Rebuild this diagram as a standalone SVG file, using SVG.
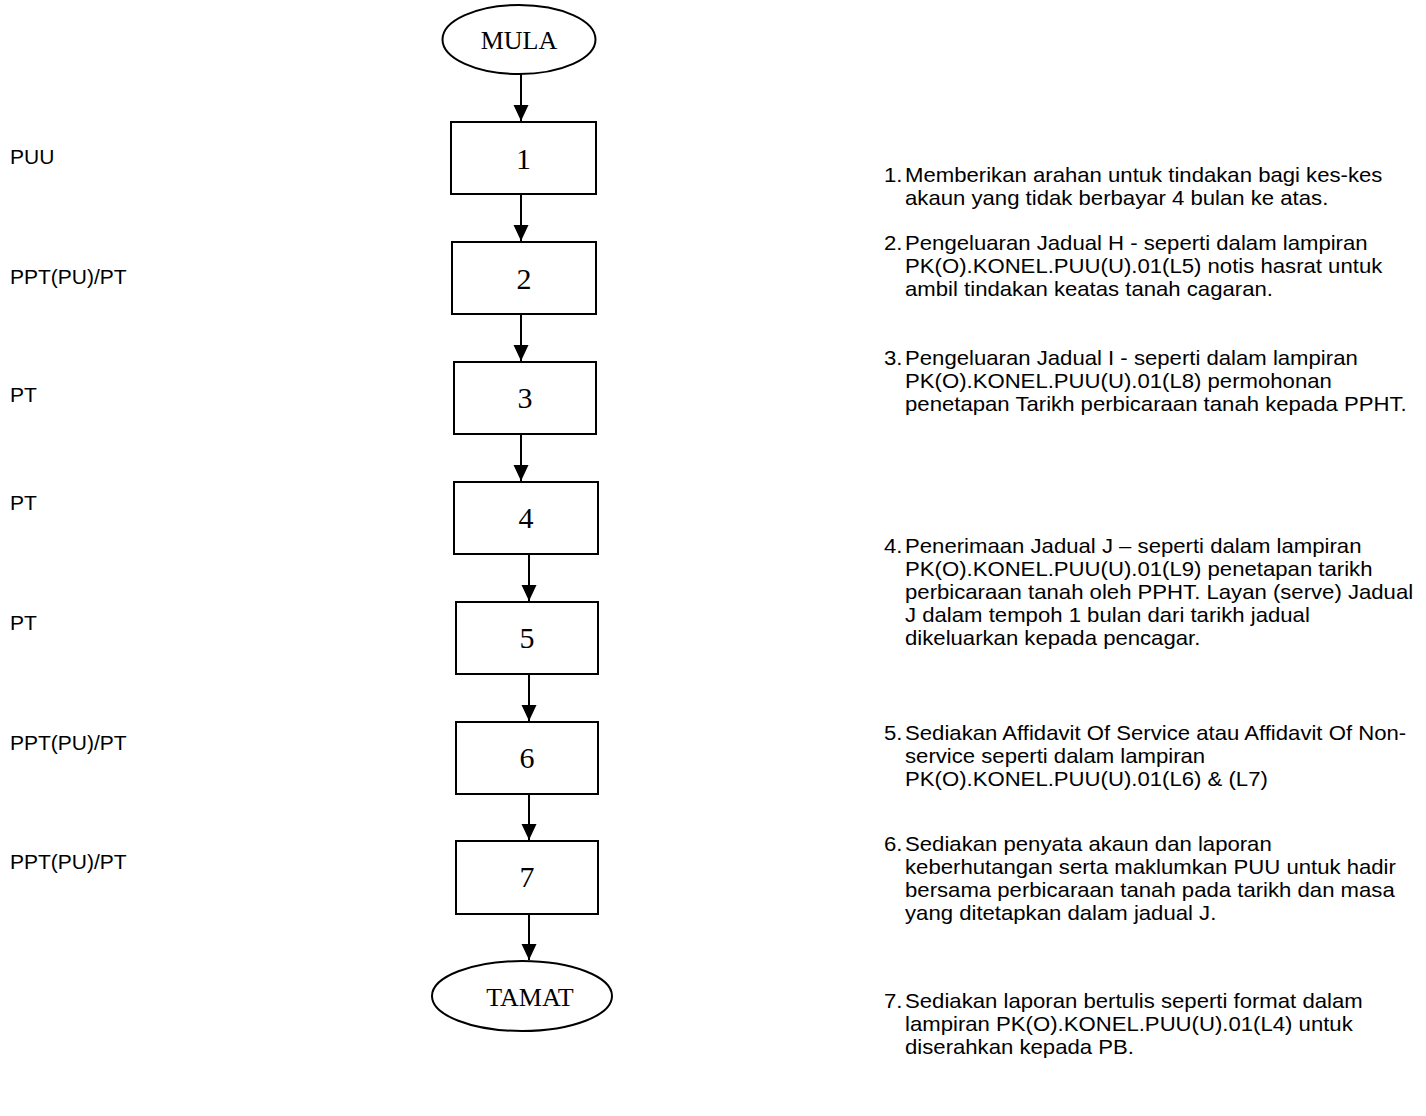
<svg xmlns="http://www.w3.org/2000/svg" width="1426" height="1116" viewBox="0 0 1426 1116">
  <style>
    .shape { fill: #ffffff; stroke: #000000; stroke-width: 2; }
    .lbl { font-family: "Liberation Serif", "Times New Roman", serif; font-size: 26px; fill: #000; text-anchor: middle; dominant-baseline: central; }
    .num { font-size: 30px; }
    .txt { font-family: "Liberation Sans", Arial, sans-serif; font-size: 20.5px; fill: #000; }
    .edge { stroke: #000; stroke-width: 2; fill: none; marker-end: url(#arrow); }
  </style>
  <defs>
    <marker id="arrow" viewBox="0 0 16 16" refX="16" refY="8" markerWidth="16" markerHeight="16" markerUnits="userSpaceOnUse" orient="auto">
      <path d="M0,0.5 L16,8 L0,15.5 Z" fill="#000"/>
    </marker>
  </defs>
  <rect width="1426" height="1116" fill="#ffffff"/>

  <!-- connectors -->
  <g id="connectors">
    <line class="edge" x1="521" y1="74" x2="521" y2="121"/>
    <line class="edge" x1="521" y1="194" x2="521" y2="241"/>
    <line class="edge" x1="521" y1="314" x2="521" y2="361"/>
    <line class="edge" x1="521" y1="434" x2="521" y2="481"/>
    <line class="edge" x1="529" y1="554" x2="529" y2="601"/>
    <line class="edge" x1="529" y1="674" x2="529" y2="721"/>
    <line class="edge" x1="529" y1="794" x2="529" y2="840"/>
    <line class="edge" x1="529" y1="914" x2="529" y2="960"/>
  </g>

  <!-- flow nodes -->
  <g id="start">
    <ellipse class="shape" cx="519" cy="39.5" rx="76.5" ry="34.5"/>
    <text class="lbl" x="519" y="40">MULA</text>
  </g>
  <g id="step1">
    <rect class="shape" x="451" y="122" width="145" height="72"/>
    <text class="lbl num" x="523.5" y="158">1</text>
  </g>
  <g id="step2">
    <rect class="shape" x="452" y="242" width="144" height="72"/>
    <text class="lbl num" x="524" y="278">2</text>
  </g>
  <g id="step3">
    <rect class="shape" x="454" y="362" width="142" height="72"/>
    <text class="lbl num" x="525" y="397">3</text>
  </g>
  <g id="step4">
    <rect class="shape" x="454" y="482" width="144" height="72"/>
    <text class="lbl num" x="526" y="517">4</text>
  </g>
  <g id="step5">
    <rect class="shape" x="456" y="602" width="142" height="72"/>
    <text class="lbl num" x="527" y="637">5</text>
  </g>
  <g id="step6">
    <rect class="shape" x="456" y="722" width="142" height="72"/>
    <text class="lbl num" x="527" y="757">6</text>
  </g>
  <g id="step7">
    <rect class="shape" x="456" y="841" width="142" height="73"/>
    <text class="lbl num" x="527" y="876">7</text>
  </g>
  <g id="end">
    <ellipse class="shape" cx="522" cy="996" rx="90" ry="35"/>
    <text class="lbl" x="530" y="997">TAMAT</text>
  </g>

  <!-- responsible party for each step -->
  <g id="roles">
    <text class="txt" x="10" y="164" style="font-size:21px">PUU</text>
    <text class="txt" x="10" y="284" style="font-size:21px">PPT(PU)/PT</text>
    <text class="txt" x="10" y="402" style="font-size:21px">PT</text>
    <text class="txt" x="10" y="510" style="font-size:21px">PT</text>
    <text class="txt" x="10" y="630" style="font-size:21px">PT</text>
    <text class="txt" x="10" y="750" style="font-size:21px">PPT(PU)/PT</text>
    <text class="txt" x="10" y="869" style="font-size:21px">PPT(PU)/PT</text>
  </g>

  <!-- step descriptions (slightly widened sans: numbers at x=884, body at x=905) -->
  <g id="notes" transform="scale(1.08,1)">
    <text class="txt" x="818.5" y="182">1.</text>
    <text class="txt" x="838" y="182">Memberikan arahan untuk tindakan bagi kes-kes</text>
    <text class="txt" x="838" y="205">akaun yang tidak berbayar 4 bulan ke atas.</text>

    <text class="txt" x="818.5" y="250">2.</text>
    <text class="txt" x="838" y="250">Pengeluaran Jadual H - seperti dalam lampiran</text>
    <text class="txt" x="838" y="273">PK(O).KONEL.PUU(U).01(L5) notis hasrat untuk</text>
    <text class="txt" x="838" y="296">ambil tindakan keatas tanah cagaran.</text>

    <text class="txt" x="818.5" y="365">3.</text>
    <text class="txt" x="838" y="365">Pengeluaran Jadual I - seperti dalam lampiran</text>
    <text class="txt" x="838" y="388">PK(O).KONEL.PUU(U).01(L8) permohonan</text>
    <text class="txt" x="838" y="411">penetapan Tarikh perbicaraan tanah kepada PPHT.</text>

    <text class="txt" x="818.5" y="553">4.</text>
    <text class="txt" x="838" y="553">Penerimaan Jadual J – seperti dalam lampiran</text>
    <text class="txt" x="838" y="576">PK(O).KONEL.PUU(U).01(L9) penetapan tarikh</text>
    <text class="txt" x="838" y="599">perbicaraan tanah oleh PPHT. Layan (serve) Jadual</text>
    <text class="txt" x="838" y="622">J dalam tempoh 1 bulan dari tarikh jadual</text>
    <text class="txt" x="838" y="645">dikeluarkan kepada pencagar.</text>

    <text class="txt" x="818.5" y="740">5.</text>
    <text class="txt" x="838" y="740">Sediakan Affidavit Of Service atau Affidavit Of Non-</text>
    <text class="txt" x="838" y="763">service seperti dalam lampiran</text>
    <text class="txt" x="838" y="786">PK(O).KONEL.PUU(U).01(L6) &amp; (L7)</text>

    <text class="txt" x="818.5" y="851">6.</text>
    <text class="txt" x="838" y="851">Sediakan penyata akaun dan laporan</text>
    <text class="txt" x="838" y="874">keberhutangan serta maklumkan PUU untuk hadir</text>
    <text class="txt" x="838" y="897">bersama perbicaraan tanah pada tarikh dan masa</text>
    <text class="txt" x="838" y="920">yang ditetapkan dalam jadual J.</text>

    <text class="txt" x="818.5" y="1008">7.</text>
    <text class="txt" x="838" y="1008">Sediakan laporan bertulis seperti format dalam</text>
    <text class="txt" x="838" y="1031">lampiran PK(O).KONEL.PUU(U).01(L4) untuk</text>
    <text class="txt" x="838" y="1054">diserahkan kepada PB.</text>
  </g>
</svg>
